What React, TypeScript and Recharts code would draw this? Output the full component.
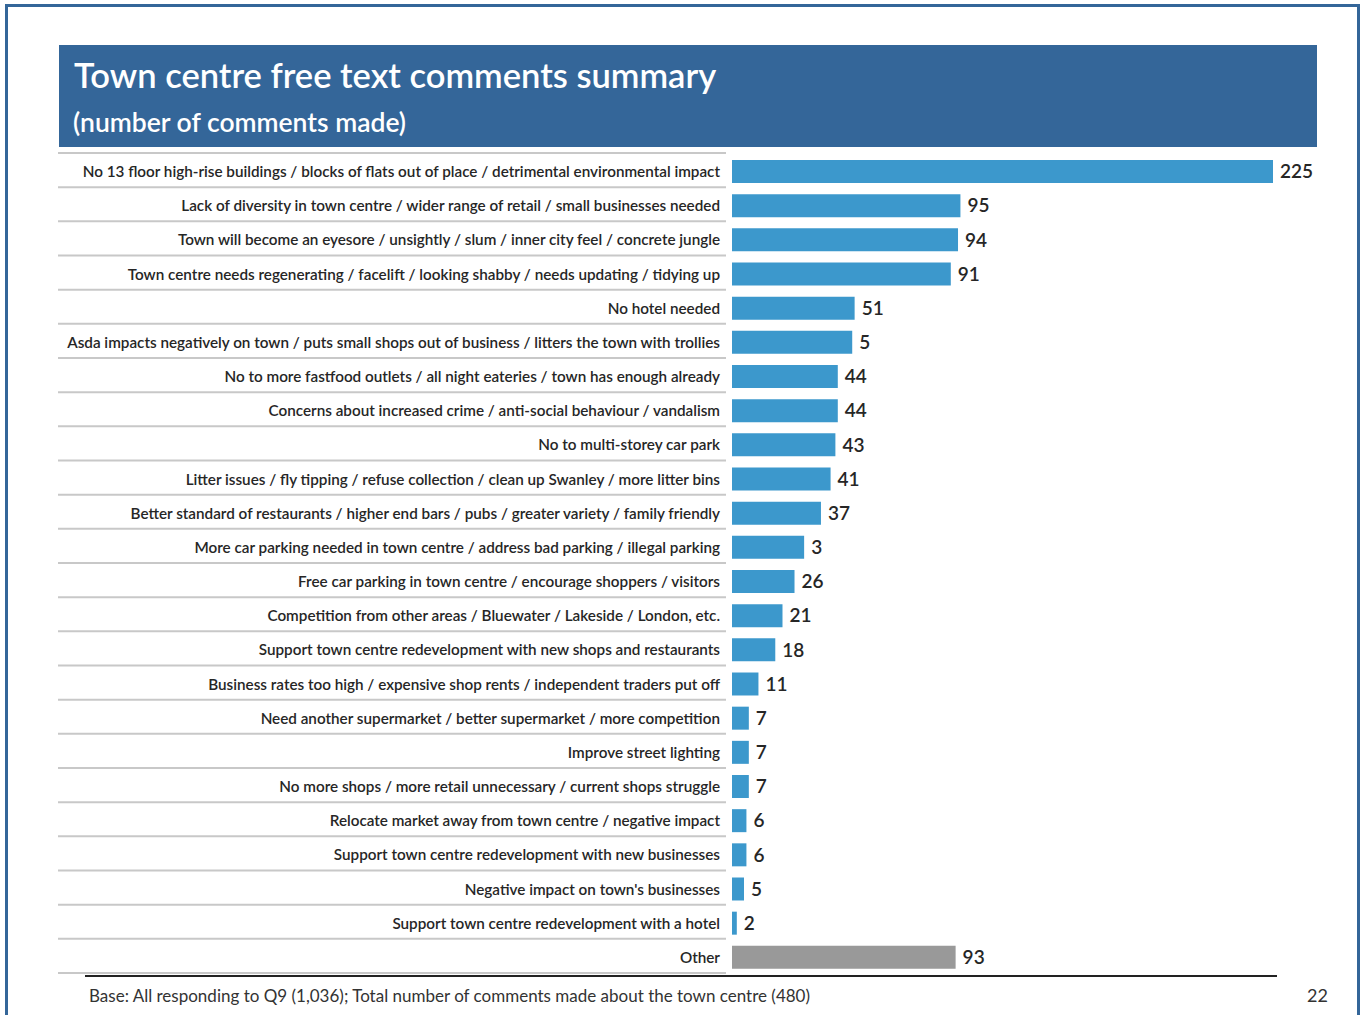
import { BarChart, Bar, XAxis, YAxis, Cell, LabelList } from "recharts";

const categories = [
  "No 13 floor high-rise buildings / blocks of flats out of place / detrimental environmental impact",
  "Lack of diversity in town centre / wider range of retail / small businesses needed",
  "Town will become an eyesore / unsightly / slum / inner city feel / concrete jungle",
  "Town centre needs regenerating / facelift / looking shabby / needs updating / tidying up",
  "No hotel needed",
  "Asda impacts negatively on town / puts small shops out of business / litters the town with trollies",
  "No to more fastfood outlets / all night eateries / town has enough already",
  "Concerns about increased crime / anti-social behaviour / vandalism",
  "No to multi-storey car park",
  "Litter issues / fly tipping / refuse collection / clean up Swanley / more litter bins",
  "Better standard of restaurants / higher end bars / pubs / greater variety / family friendly",
  "More car parking needed in town centre / address bad parking / illegal parking",
  "Free car parking in town centre / encourage shoppers / visitors",
  "Competition from other areas / Bluewater / Lakeside / London, etc.",
  "Support town centre redevelopment with new shops and restaurants",
  "Business rates too high / expensive shop rents / independent traders put off",
  "Need another supermarket / better supermarket / more competition",
  "Improve street lighting",
  "No more shops / more retail unnecessary / current shops struggle",
  "Relocate market away from town centre / negative impact",
  "Support town centre redevelopment with new businesses",
  "Negative impact on town's businesses",
  "Support town centre redevelopment with a hotel",
  "Other",
];

// bar lengths
const values = [225, 95, 94, 91, 51, 50, 44, 44, 43, 41, 37, 30, 26, 21, 18, 11, 7, 7, 7, 6, 6, 5, 2, 93];

// labels as printed on the slide (two of them are cut short in the original)
const valueLabels = ["225", "95", "94", "91", "51", "5", "44", "44", "43", "41", "37", "3", "26", "21", "18", "11", "7", "7", "7", "6", "6", "5", "2", "93"];

const BLUE = "#3c98cc";
const GREY = "#999999";
const HEADER = "#346699";

const data = categories.map((name, i) => ({
  name,
  value: values[i],
  label: valueLabels[i],
}));

const TOP = 154;
const BOTTOM = 974;
const BAND = (BOTTOM - TOP) / categories.length;

function CategoryTick(props: any) {
  const { y, payload, index } = props;
  return (
    <g>
      {index === 0 && (
        <line x1={58} x2={726} y1={y - BAND / 2 - 1} y2={y - BAND / 2 - 1} stroke="#c8c8c8" strokeWidth={2} />
      )}
      <line x1={58} x2={726} y1={y + BAND / 2 - 1} y2={y + BAND / 2 - 1} stroke="#c8c8c8" strokeWidth={2} />
      <text
        x={720}
        y={y}
        textAnchor="end"
        dominantBaseline="central"
        fontFamily="Lato"
        fontWeight={600}
        fontSize={15.25}
        fill="#262626"
      >
        {payload.value}
      </text>
    </g>
  );
}

export default function App() {
  return (
    <div
      style={{
        position: "absolute",
        left: 0,
        top: 0,
        width: 1362,
        height: 1015,
        background: "#fff",
        overflow: "hidden",
        fontFamily: "Lato",
      }}
    >
      <div
        style={{
          position: "absolute",
          left: 5,
          top: 4,
          width: 1349,
          height: 1100,
          border: "3px solid #346699",
        }}
      />
      <div
        style={{
          position: "absolute",
          left: 59,
          top: 45,
          width: 1258,
          height: 102,
          background: HEADER,
          color: "#fff",
        }}
      >
        <div style={{ position: "absolute", left: 15, top: 9, fontSize: 34.5, fontWeight: 600, whiteSpace: "nowrap" }}>
          Town centre free text comments summary
        </div>
        <div style={{ position: "absolute", left: 14, top: 61, fontSize: 26.5, fontWeight: 600, whiteSpace: "nowrap" }}>
          (number of comments made)
        </div>
      </div>

      <div style={{ position: "absolute", left: 0, top: 0 }}>
        <BarChart
          width={1362}
          height={1015}
          data={data}
          layout="vertical"
          margin={{ top: TOP, bottom: 1015 - BOTTOM, left: 0, right: 89 }}
        >
          <XAxis type="number" domain={[0, 225]} allowDataOverflow hide />
          <YAxis
            type="category"
            dataKey="name"
            width={732}
            axisLine={false}
            tickLine={false}
            interval={0}
            tick={<CategoryTick />}
          />
          <Bar dataKey="value" barSize={23} isAnimationActive={false}>
            {data.map((d, i) => (
              <Cell key={i} fill={d.name === "Other" ? GREY : BLUE} />
            ))}
            <LabelList
              dataKey="label"
              position="right"
              offset={7}
              fill="#262626"
              fontFamily="Lato"
              fontWeight={600}
              fontSize={19}
            />
          </Bar>
        </BarChart>
      </div>

      <div style={{ position: "absolute", left: 85, top: 975, width: 1192, height: 2, background: "#222" }} />
      <div style={{ position: "absolute", left: 89, top: 985, fontSize: 17, color: "#333", whiteSpace: "nowrap" }}>
        Base: All responding to Q9 (1,036); Total number of comments made about the town centre (480)
      </div>
      <div style={{ position: "absolute", left: 1307, top: 984, fontSize: 18, color: "#333" }}>22</div>
    </div>
  );
}
